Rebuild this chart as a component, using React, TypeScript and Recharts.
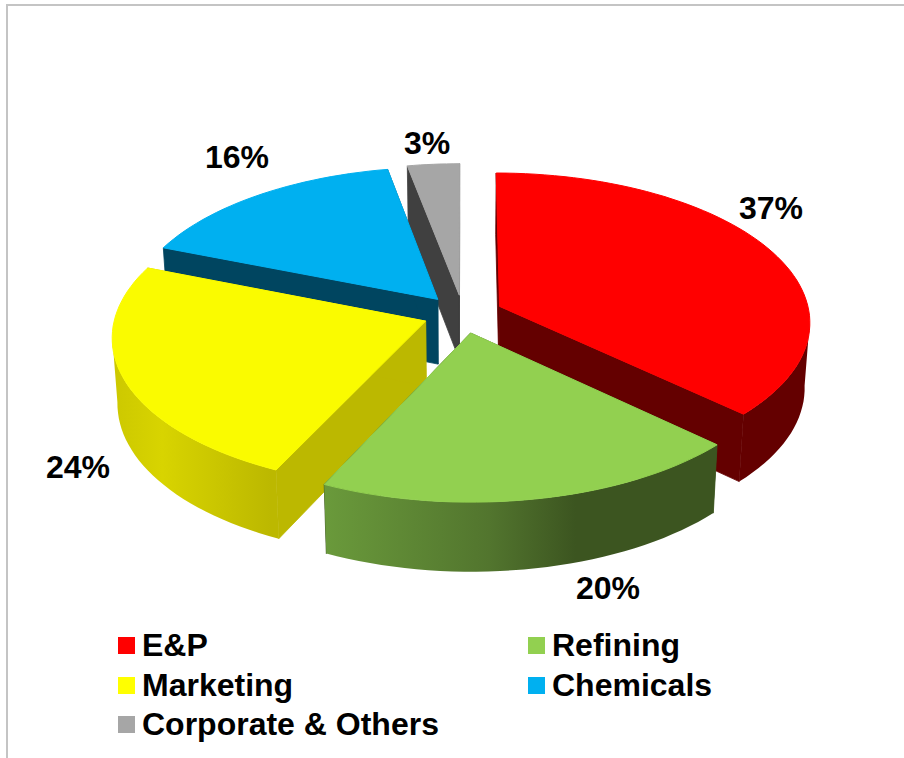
import { Legend, Pie, PieChart } from 'recharts'

const categories = ['E&P', 'Refining', 'Marketing', 'Chemicals', 'Corporate & Others']
const shares = [37, 20, 24, 16, 3]
const topColors = ['#FF0000', '#92D050', '#FAFB00', '#00B0F0', '#A6A6A6']
const legendColors = ['#FF0000', '#92D050', '#FFFF00', '#00B0F0', '#A6A6A6']
const wallColors = ['#640000', '#3C5520', '#BCB800', '#004560', '#404040']
// painter's order: the back slices go first so the front ones can overlap them
const drawOrder = [0, 4, 3, 2, 1]

const rimGradients: Record<string, [number, string][]> = {
  Refining: [[0, '#6A9A3B'], [0.42, '#52752E'], [0.64, '#3C5520'], [1, '#3C5520']],
  Marketing: [[0, '#CCC800'], [0.3, '#D8D400'], [0.95, '#BCB800'], [1, '#BCB800']],
}

const labelCenters: Record<string, [number, number]> = {
  'E&P': [771, 208],
  Refining: [608, 588],
  Marketing: [78, 467],
  Chemicals: [237, 157],
  'Corporate & Others': [427, 143],
}

const FONT = '"Liberation Sans", Arial, sans-serif'
const EXPLODE = 40
const PERSPECTIVE = 0.1
const TILT = 0.478
const THICKNESS = 65
const BASE_SHRINK = 0.985
const RAD = Math.PI / 180

const pieData = drawOrder.map(i => ({
  name: categories[i],
  value: shares[i],
  fill: topColors[i],
  wall: wallColors[i],
}))

// red ends up first in the list, so start the sweep where its last edge sits
const firstAngle = 90 - (shares[0] / 100) * 360

function Slice3D(props: any) {
  const { cx, cy, outerRadius: R, startAngle, endAngle, fill, name, wall } = props
  const midAngle = (startAngle + endAngle) / 2
  const midTheta = (90 - midAngle) * RAD
  const ex = EXPLODE * Math.sin(midTheta)
  const ed = EXPLODE * Math.cos(midTheta)

  // map a point on the disc (clockwise degrees from the top) to the screen
  const project = (r: number, deg: number, base: boolean): [number, number] => {
    const t = deg * RAD
    const x = r * Math.sin(t) + ex
    const d = r * Math.cos(t) + ed
    const s = 1 / (1 + (PERSPECTIVE * d) / R)
    return [
      cx + x * s * (base ? BASE_SHRINK : 1),
      cy - d * TILT * s + (base ? THICKNESS * (1 + 0.55 * (s - 1)) : 0),
    ]
  }

  const from = 90 - Math.max(startAngle, endAngle)
  const to = 90 - Math.min(startAngle, endAngle)
  const steps = Math.max(8, Math.ceil((to - from) / 2))
  const arc = (base: boolean) => {
    const pts: [number, number][] = []
    for (let i = 0; i <= steps; i++) pts.push(project(R, from + ((to - from) * i) / steps, base))
    return pts
  }
  const toPath = (pts: [number, number][]) =>
    'M' + pts.map(p => `${p[0].toFixed(1)},${p[1].toFixed(1)}`).join('L') + 'Z'

  const topArc = arc(false)
  const baseArc = arc(true)
  const apexTop = project(0, 0, false)
  const apexBase = project(0, 0, true)
  const gradientStops = rimGradients[name]
  const gradientId = `rim-${name}`

  // only the stretch of rim that runs right to left faces the viewer
  const frontIdx = topArc.map((_, i) => i).filter(i => i < steps && topArc[i + 1][0] < topArc[i][0])
  const frontStart = frontIdx.length ? frontIdx[0] : -1
  const frontEnd = frontIdx.length ? frontIdx[frontIdx.length - 1] + 1 : -1

  return (
    <g>
      {gradientStops && (
        <defs>
          <linearGradient id={gradientId} x1="0" y1="0" x2="1" y2="0">
            {gradientStops.map(([offset, color]) => (
              <stop key={offset} offset={offset} stopColor={color} />
            ))}
          </linearGradient>
        </defs>
      )}
      {/* the two cut faces; the thin stroke hides the seam where they meet the rim */}
      <path
        d={toPath([apexTop, topArc[0], baseArc[0], apexBase])}
        fill={wall}
        stroke={wall}
        strokeWidth={0.8}
      />
      <path
        d={toPath([apexTop, topArc[steps], baseArc[steps], apexBase])}
        fill={wall}
        stroke={wall}
        strokeWidth={0.8}
      />
      {/* curved outer face */}
      {frontStart >= 0 && (
        <path
          d={toPath([
            ...topArc.slice(frontStart, frontEnd + 1),
            ...baseArc.slice(frontStart, frontEnd + 1).reverse(),
          ])}
          fill={gradientStops ? `url(#${gradientId})` : wall}
        />
      )}
      {/* top face */}
      <path d={toPath([apexTop, ...topArc])} fill={fill} stroke={fill} strokeWidth={1} />
    </g>
  )
}

function renderLabel(props: any) {
  const [x, y] = labelCenters[props.name]
  return (
    <text
      x={x}
      y={y}
      textAnchor="middle"
      dominantBaseline="central"
      fontFamily={FONT}
      fontWeight={700}
      fontSize={32}
      fill="#000"
    >
      {`${props.value}%`}
    </text>
  )
}

function LegendGrid() {
  return (
    <div
      style={{
        display: 'grid',
        gridTemplateColumns: '410px 300px',
        gridAutoRows: '39.5px',
        fontFamily: FONT,
        fontWeight: 700,
        fontSize: 32,
        color: '#000',
      }}
    >
      {categories.map((name, i) => (
        <div key={name} style={{ display: 'flex', alignItems: 'center', whiteSpace: 'nowrap' }}>
          <span
            style={{
              width: 17,
              height: 17,
              marginRight: 7,
              flex: 'none',
              background: legendColors[i],
            }}
          />
          {name}
        </div>
      ))}
    </div>
  )
}

export default function App() {
  return (
    <div
      style={{
        position: 'absolute',
        left: 0,
        top: 0,
        width: 904,
        height: 758,
        overflow: 'hidden',
        background: '#fff',
      }}
    >
      <div
        style={{
          position: 'absolute',
          left: 6,
          top: 4,
          width: 900,
          height: 760,
          borderLeft: '2px solid #C4C4C4',
          borderTop: '2px solid #C4C4C4',
        }}
      />
      <div style={{ position: 'absolute', left: 0, top: 0 }}>
        <PieChart width={904} height={758} margin={{ top: 0, right: 0, bottom: 0, left: 0 }}>
          <Pie
            data={pieData}
            dataKey="value"
            nameKey="name"
            cx={463}
            cy={314}
            innerRadius={0}
            outerRadius={310}
            startAngle={firstAngle}
            endAngle={firstAngle + 360}
            stroke="none"
            shape={Slice3D}
            label={renderLabel}
            labelLine={false}
            isAnimationActive={false}
          />
          <Legend
            content={<LegendGrid />}
            wrapperStyle={{ position: 'absolute', left: 118, top: 626, width: 720, bottom: 'auto' }}
          />
        </PieChart>
      </div>
    </div>
  )
}
